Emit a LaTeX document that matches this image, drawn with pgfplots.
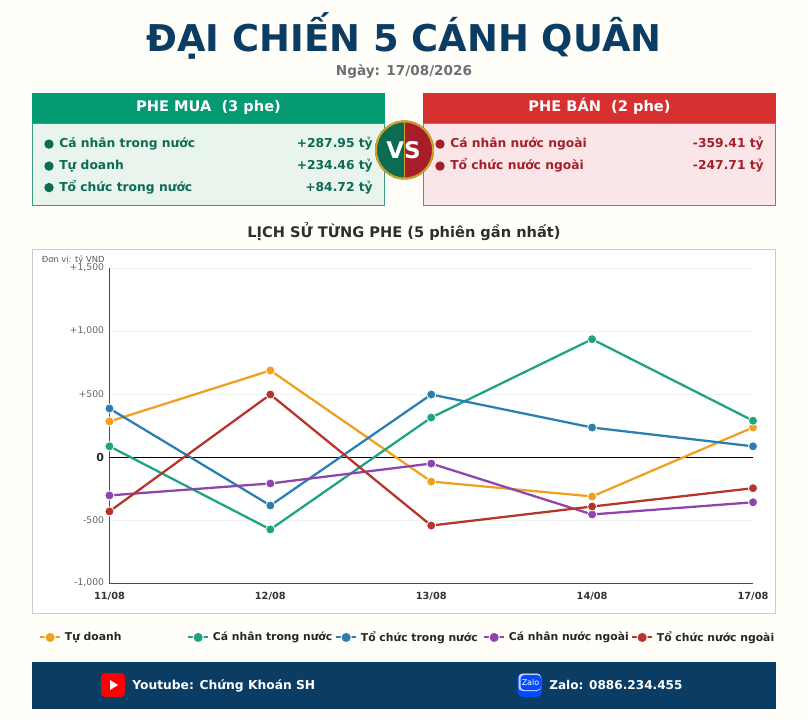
\documentclass[border=0pt]{standalone}
\usepackage{pgfplots}
\pgfplotsset{compat=1.18}
\usepackage{fontspec}
\setmainfont{DejaVu Sans}
\definecolor{bg}{HTML}{FFFEF8}
\definecolor{navy}{HTML}{0B3C63}
\definecolor{grn}{HTML}{049A72}
\definecolor{grnb}{HTML}{3A9A84}
\definecolor{grnd}{HTML}{0B6B53}
\definecolor{grnl}{HTML}{E8F4EC}
\definecolor{redh}{HTML}{D63031}
\definecolor{redd}{HTML}{A61E28}
\definecolor{redl}{HTML}{FAE6E8}
\definecolor{redb}{HTML}{C0626B}
\definecolor{gold}{HTML}{C9A227}
\definecolor{slate}{HTML}{6B7076}
\definecolor{cTD}{HTML}{F0A01E}
\definecolor{cCN}{HTML}{1FA385}
\definecolor{cTC}{HTML}{2A7FB0}
\definecolor{cNN}{HTML}{8E44AD}
\definecolor{cTN}{HTML}{B5352C}
\newcommand\px[1]{\fontsize{\dimexpr#1pt*3/4\relax}{\dimexpr#1pt*9/10\relax}\selectfont}
\begin{document}
\begin{tikzpicture}[x=0.75pt,y=-0.75pt,line cap=butt]
\useasboundingbox (0,0) rectangle (808,720);
\fill[bg] (0,0) rectangle (808,720);
\node[navy,font=\bfseries\px{36.9},anchor=base,inner sep=0] at (404,52) {ĐẠI CHIẾN 5 CÁNH QUÂN};
\node[slate,font=\bfseries\px{13.6},anchor=base,inner sep=0] at (404,75.3) {Ngày: 17/08/2026};
% buy panel
\fill[grnl] (33,123) rectangle (385,206);
\draw[grnb,line width=0.8pt] (32.5,123) rectangle (384.5,205.5);
\fill[grn] (32,93) rectangle (385,123);
\node[white,font=\bfseries\px{14.6},anchor=base,inner sep=0] at (208.5,112) {PHE MUA\ \ (3 phe)};
\foreach \y/\n/\v in {148/Cá nhân trong nước/+287.95 tỷ,170/Tự doanh/+234.46 tỷ,191.5/Tổ chức trong nước/+84.72 tỷ}{
 \fill[grnd] (49,\y-3.9) circle (4.7);
 \node[grnd,font=\bfseries\px{12.3},anchor=base west,inner sep=0] at (59,\y) {\n};
 \node[grnd,font=\bfseries\px{12.3},anchor=base east,inner sep=0] at (373,\y) {\v};
}
% sell panel
\fill[redl] (424,123) rectangle (776,206);
\draw[redb,line width=0.8pt] (423.5,123) rectangle (775.5,205.5);
\fill[redh] (423,93) rectangle (776,123);
\node[white,font=\bfseries\px{14.6},anchor=base,inner sep=0] at (599.5,112) {PHE BÁN\ \ (2 phe)};
\foreach \y/\n/\v in {148/Cá nhân nước ngoài/-359.41 tỷ,170/Tổ chức nước ngoài/-247.71 tỷ}{
 \fill[redd] (440,\y-3.9) circle (4.7);
 \node[redd,font=\bfseries\px{12.3},anchor=base west,inner sep=0] at (450,\y) {\n};
 \node[redd,font=\bfseries\px{12.3},anchor=base east,inner sep=0] at (764,\y) {\v};
}
% VS badge
\fill[grnd] (404.5,179.5) arc (90:270:29.5) -- cycle;
\fill[redd] (404.5,179.5) arc (90:-90:29.5) -- cycle;
\draw[gold,line width=1.5pt] (404.5,150) circle (28.5);
\draw[gold,line width=0.8pt] (404.5,121) -- (404.5,179);
\node[white,font=\bfseries\px{23}] at (403.5,150) {VS};
% chart title and card
\node[black!82,font=\bfseries\px{14.6}] at (404,232) {LỊCH SỬ TỪNG PHE (5 phiên gần nhất)};
\fill[white] (32,249) rectangle (776,614);
\draw[black!20,line width=0.9pt] (32.5,249.5) rectangle (775.5,613.5);
% footer
\fill[navy] (32,662) rectangle (776,709);
\fill[red,rounded corners=3pt] (101,673) rectangle (125,697);
\fill[white] (110,680) -- (118,685) -- (110,690) -- cycle;
\node[white,font=\bfseries\px{12.3},anchor=base west,inner sep=0] at (132,689.3) {Youtube: Chứng Khoán SH};
\fill[blue!70!cyan,rounded corners=4pt] (517.5,673) rectangle (542,697);
\fill[white!80!blue,rounded corners=3pt] (518.5,673.5) rectangle (541,691);
\fill[blue!70!cyan,rounded corners=3pt] (520.5,675) rectangle (541,690);
\node[white,font=\px{8}] at (530.5,683) {Zalo};
\node[white,font=\bfseries\px{12.1},anchor=base west,inner sep=0] at (549,689.6) {Zalo: 0886.234.455};
% axis
\begin{axis}[
 at={(82.1pt,-437.25pt)},anchor=south west,
 scale only axis,width=482.65pt,height=236.25pt,
 xmin=0,xmax=4,ymin=-1000,ymax=1500,
 axis x line*=bottom,axis y line*=left,
 axis line style={black!70,line width=0.75pt,-},
 xtick={0,1,2,3,4},xticklabels={11/08,12/08,13/08,14/08,17/08},
 ytick={-1000,-500,0,500,1000,1500},
 yticklabels={-1{,}000,-500,\textcolor{black!85}{\bfseries\px{11}0},+500,+1{,}000,+1{,}500},
 xticklabel style={font=\bfseries\px{9.8},text=black!80,inner sep=0,yshift=-6.5pt},
 yticklabel style={font=\px{9.3},text=black!60,inner sep=0,xshift=-3.8pt},
 major tick length=0pt,
 ymajorgrids,grid style={black!6,line width=0.6pt},
 clip=false,
 every axis plot/.append style={line width=1.7pt},
 legend columns=5,
 legend style={at={(rel axis cs:0,0)},anchor=north west,xshift=-52.9pt,yshift=-34.2pt,
   draw=none,fill=none,font=\bfseries\px{10.8},text=black!85,inner sep=0,
   /tikz/every even column/.append style={column sep=0pt}},
 legend cell align=left,
 legend image code/.code={
   \draw[#1,line width=1.5pt,mark=none] (0,0) -- (15pt,0);
   \fill[white] (7.5pt,0) circle (3.3pt);
   \fill[#1,mark=none] (7.5pt,0) circle (2.5pt);
 },
]
\addplot[black,line width=0.75pt,forget plot] coordinates {(0,0) (4,0)};
\pgfplotsset{mk/.style={color=#1,mark=*,mark size=3.4pt,mark options={draw=white,fill=#1,line width=0.6pt,solid}}}
\addplot[mk=cTD] coordinates {(0,282) (1,687) (2,-195) (3,-313) (4,234.46)};
\addlegendentry{\makebox[90.5pt][l]{\hspace{0.8pt}Tự doanh}}
\addplot[mk=cCN] coordinates {(0,85) (1,-575) (2,313) (3,935) (4,287.95)};
\addlegendentry{\makebox[90.5pt][l]{\hspace{0.8pt}Cá nhân trong nước}}
\addplot[mk=cTC] coordinates {(0,385) (1,-385) (2,496) (3,234) (4,84.72)};
\addlegendentry{\makebox[90.5pt][l]{\hspace{0.8pt}Tổ chức trong nước}}
\addplot[mk=cNN] coordinates {(0,-305) (1,-210) (2,-52) (3,-456) (4,-359.41)};
\addlegendentry{\makebox[90.5pt][l]{\hspace{0.8pt}Cá nhân nước ngoài}}
\addplot[mk=cTN] coordinates {(0,-432) (1,496) (2,-544) (3,-393) (4,-247.71)};
\addlegendentry{\makebox[90.5pt][l]{\hspace{0.8pt}Tổ chức nước ngoài}}
\end{axis}
\node[black!65,font=\px{8.4},anchor=west,inner sep=0] at (41.5,259.5) {Đơn vị: tỷ VND};
\end{tikzpicture}
\end{document}
